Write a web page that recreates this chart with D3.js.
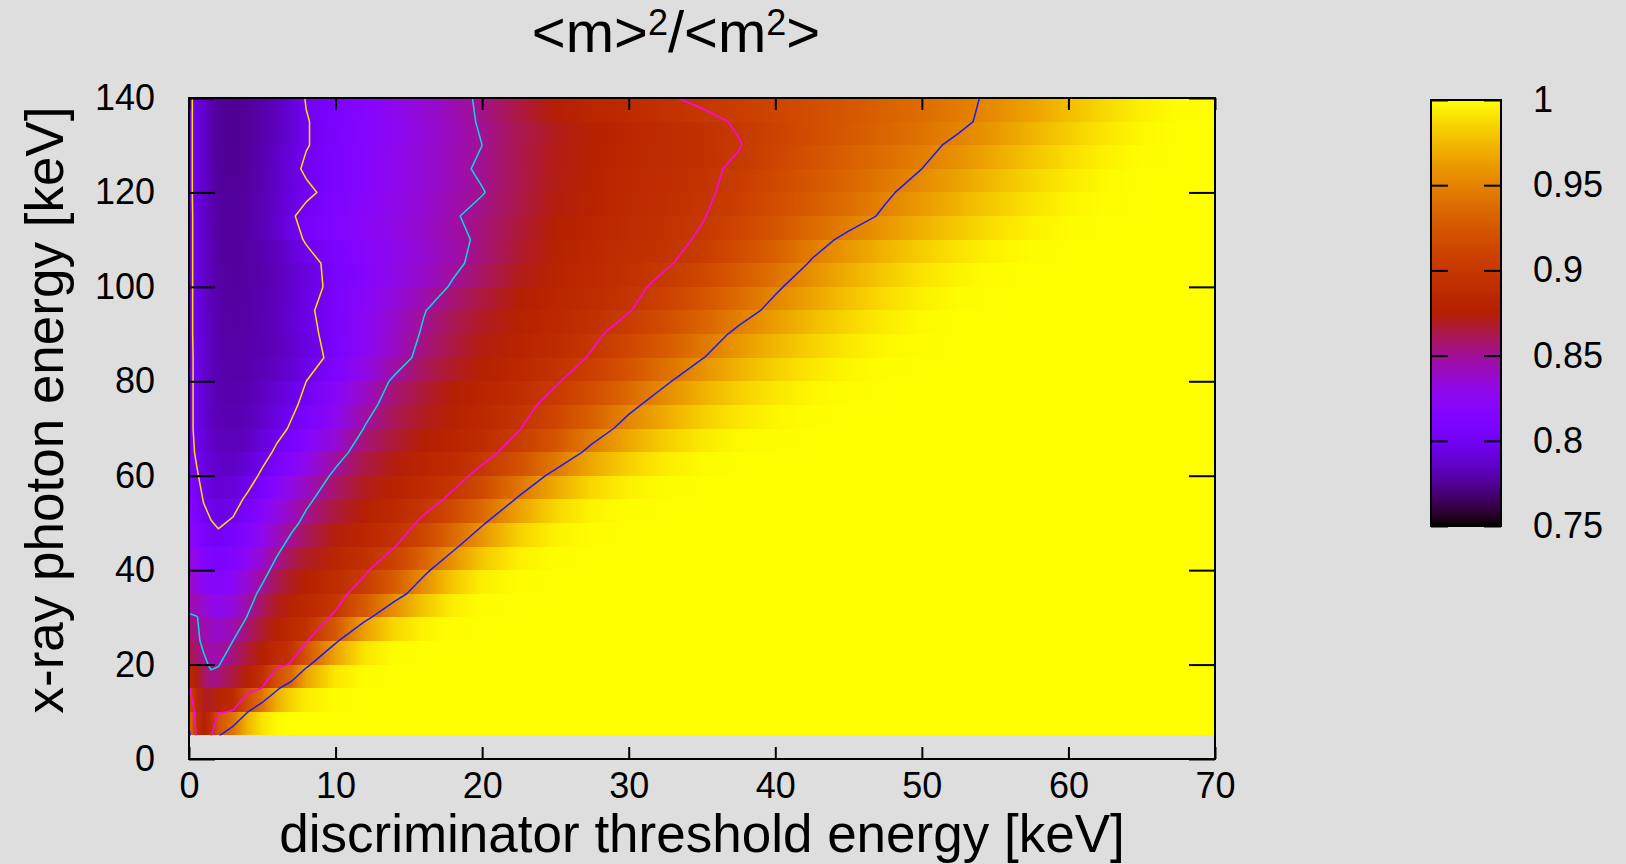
<!DOCTYPE html>
<html>
<head>
<meta charset="utf-8">
<script src="https://cdn.jsdelivr.net/npm/d3@7"></script>
<style>
  html, body { margin: 0; padding: 0; background: #dedede; }
  svg { display: block; }
  text { font-family: "Liberation Sans", Arial, sans-serif; fill: #000; }
</style>
</head>
<body>
<div id="chart"></div>
<script>

// threshold energy columns [keV] and photon energy rows [keV]
var xKeV = [0, 0.5, 1, 1.5, 2, 3, 4, 5, 6, 7, 8, 10, 12, 14, 16, 18, 20, 22.5, 25, 27.5,
            30, 32.5, 35, 37.5, 40, 42.5, 45, 47.5, 50, 52.5, 55, 57.5, 60, 62.5, 65, 67.5, 70];
var yKeV = [5, 10, 15, 20, 25, 30, 35, 40, 45, 50, 55, 60, 65, 70, 75, 80, 85, 90, 95, 100,
            105, 110, 115, 120, 125, 130, 135, 140];

// <m>^2/<m^2>, one row per photon energy (bottom row first), one value per column
var ratio = [
  [0.960,0.897,0.875,0.898,0.946,0.980,0.996,1,1,1,1,1,1,1,1,1,1,1,1,1,1,1,1,1,1,1,1,1,1,1,1,1,1,1,1,1,1],
  [0.930,0.890,0.876,0.882,0.897,0.902,0.949,0.982,0.996,1,1,1,1,1,1,1,1,1,1,1,1,1,1,1,1,1,1,1,1,1,1,1,1,1,1,1,1],
  [0.902,0.885,0.866,0.857,0.860,0.870,0.886,0.901,0.945,0.970,0.988,0.999,1,1,1,1,1,1,1,1,1,1,1,1,1,1,1,1,1,1,1,1,1,1,1,1,1],
  [0.870,0.862,0.853,0.848,0.849,0.860,0.871,0.881,0.893,0.902,0.944,0.985,0.998,1,1,1,1,1,1,1,1,1,1,1,1,1,1,1,1,1,1,1,1,1,1,1,1],
  [0.858,0.853,0.847,0.843,0.842,0.850,0.862,0.872,0.881,0.889,0.898,0.946,0.985,0.998,1,1,1,1,1,1,1,1,1,1,1,1,1,1,1,1,1,1,1,1,1,1,1],
  [0.852,0.851,0.845,0.838,0.834,0.838,0.851,0.864,0.874,0.882,0.889,0.903,0.943,0.974,0.993,0.999,1,1,1,1,1,1,1,1,1,1,1,1,1,1,1,1,1,1,1,1,1],
  [0.840,0.834,0.828,0.823,0.821,0.828,0.842,0.855,0.866,0.874,0.881,0.893,0.910,0.938,0.966,0.990,0.999,1,1,1,1,1,1,1,1,1,1,1,1,1,1,1,1,1,1,1,1],
  [0.840,0.830,0.821,0.815,0.812,0.818,0.830,0.843,0.857,0.866,0.873,0.886,0.897,0.918,0.944,0.970,0.990,0.999,1,1,1,1,1,1,1,1,1,1,1,1,1,1,1,1,1,1,1],
  [0.830,0.821,0.813,0.808,0.806,0.810,0.820,0.832,0.845,0.857,0.865,0.878,0.889,0.899,0.920,0.945,0.970,0.992,0.999,1,1,1,1,1,1,1,1,1,1,1,1,1,1,1,1,1,1],
  [0.820,0.812,0.805,0.801,0.798,0.802,0.812,0.824,0.835,0.845,0.855,0.869,0.879,0.889,0.904,0.925,0.947,0.976,0.993,0.999,1,1,1,1,1,1,1,1,1,1,1,1,1,1,1,1,1],
  [0.815,0.808,0.799,0.793,0.790,0.794,0.803,0.814,0.826,0.837,0.846,0.862,0.873,0.882,0.892,0.904,0.925,0.953,0.979,0.994,0.999,1,1,1,1,1,1,1,1,1,1,1,1,1,1,1,1],
  [0.810,0.802,0.795,0.790,0.788,0.787,0.793,0.803,0.814,0.825,0.835,0.854,0.868,0.877,0.885,0.893,0.906,0.931,0.957,0.979,0.992,0.998,1,1,1,1,1,1,1,1,1,1,1,1,1,1,1],
  [0.806,0.798,0.791,0.787,0.784,0.783,0.786,0.794,0.803,0.812,0.821,0.842,0.860,0.869,0.877,0.884,0.893,0.909,0.931,0.957,0.976,0.990,0.997,1,1,1,1,1,1,1,1,1,1,1,1,1,1],
  [0.805,0.796,0.790,0.785,0.782,0.781,0.783,0.788,0.795,0.802,0.810,0.829,0.851,0.864,0.872,0.879,0.886,0.899,0.916,0.937,0.959,0.976,0.989,0.996,0.999,1,1,1,1,1,1,1,1,1,1,1,1],
  [0.805,0.796,0.789,0.784,0.781,0.780,0.781,0.785,0.791,0.797,0.804,0.823,0.843,0.859,0.869,0.877,0.884,0.893,0.907,0.924,0.944,0.962,0.977,0.988,0.995,0.999,1,1,1,1,1,1,1,1,1,1,1],
  [0.805,0.796,0.789,0.784,0.780,0.779,0.780,0.783,0.788,0.793,0.800,0.817,0.836,0.853,0.864,0.872,0.879,0.887,0.898,0.912,0.928,0.947,0.965,0.979,0.989,0.996,0.999,1,1,1,1,1,1,1,1,1,1],
  [0.805,0.796,0.789,0.783,0.780,0.778,0.779,0.780,0.782,0.786,0.791,0.806,0.824,0.841,0.856,0.866,0.874,0.882,0.890,0.902,0.916,0.932,0.949,0.965,0.978,0.988,0.995,0.999,1,1,1,1,1,1,1,1,1],
  [0.805,0.795,0.788,0.783,0.779,0.778,0.779,0.781,0.784,0.788,0.794,0.808,0.823,0.838,0.852,0.863,0.871,0.879,0.886,0.896,0.909,0.923,0.938,0.955,0.969,0.981,0.990,0.996,0.999,1,1,1,1,1,1,1,1],
  [0.805,0.795,0.788,0.782,0.779,0.777,0.778,0.780,0.784,0.789,0.796,0.810,0.824,0.837,0.849,0.860,0.868,0.876,0.883,0.890,0.899,0.912,0.926,0.941,0.956,0.970,0.982,0.991,0.997,1,1,1,1,1,1,1,1],
  [0.805,0.795,0.787,0.782,0.778,0.777,0.778,0.780,0.783,0.787,0.792,0.806,0.819,0.830,0.840,0.852,0.862,0.873,0.881,0.888,0.895,0.905,0.919,0.933,0.947,0.961,0.974,0.985,0.993,0.998,1,1,1,1,1,1,1],
  [0.805,0.795,0.787,0.782,0.778,0.776,0.777,0.779,0.782,0.787,0.793,0.807,0.818,0.828,0.837,0.846,0.856,0.869,0.879,0.886,0.892,0.898,0.907,0.920,0.934,0.952,0.966,0.978,0.988,0.995,0.999,1,1,1,1,1,1],
  [0.805,0.795,0.787,0.781,0.777,0.776,0.778,0.781,0.786,0.793,0.802,0.811,0.820,0.828,0.836,0.844,0.854,0.866,0.876,0.884,0.890,0.895,0.902,0.914,0.927,0.942,0.955,0.967,0.978,0.987,0.994,0.998,1,1,1,1,1],
  [0.805,0.795,0.787,0.781,0.777,0.776,0.778,0.783,0.789,0.798,0.806,0.815,0.824,0.832,0.840,0.848,0.856,0.866,0.875,0.882,0.888,0.893,0.899,0.908,0.919,0.930,0.941,0.953,0.965,0.975,0.985,0.993,0.998,1,1,1,1],
  [0.805,0.794,0.786,0.781,0.777,0.775,0.777,0.780,0.784,0.789,0.796,0.807,0.816,0.825,0.833,0.841,0.849,0.861,0.871,0.879,0.886,0.891,0.897,0.905,0.916,0.926,0.937,0.947,0.958,0.969,0.979,0.988,0.995,0.999,1,1,1],
  [0.805,0.794,0.786,0.780,0.776,0.775,0.777,0.781,0.787,0.795,0.803,0.811,0.820,0.829,0.837,0.845,0.853,0.864,0.873,0.880,0.886,0.891,0.896,0.903,0.913,0.923,0.932,0.941,0.950,0.961,0.972,0.982,0.991,0.997,1,1,1],
  [0.805,0.794,0.786,0.780,0.776,0.774,0.776,0.779,0.784,0.790,0.799,0.808,0.816,0.825,0.833,0.841,0.850,0.861,0.870,0.877,0.883,0.888,0.893,0.899,0.910,0.920,0.929,0.937,0.945,0.954,0.965,0.976,0.986,0.994,0.999,1,1],
  [0.805,0.794,0.786,0.780,0.776,0.774,0.776,0.779,0.783,0.789,0.799,0.808,0.817,0.826,0.835,0.843,0.852,0.863,0.872,0.879,0.885,0.890,0.895,0.902,0.909,0.916,0.923,0.930,0.937,0.946,0.956,0.968,0.979,0.989,0.996,1,1],
  [0.805,0.794,0.786,0.780,0.776,0.774,0.776,0.779,0.784,0.791,0.801,0.809,0.818,0.827,0.836,0.844,0.853,0.866,0.877,0.885,0.892,0.898,0.904,0.910,0.915,0.921,0.927,0.933,0.940,0.946,0.953,0.963,0.974,0.985,0.994,0.999,1]
];

var contourLevels = [0.8, 0.85, 0.9, 0.95];
var contourColors = ["#ffe000", "#00dcea", "#ff00ff", "#1a1aff"];
var xTicks = [0, 10, 20, 30, 40, 50, 60, 70];
var yTicks = [0, 20, 40, 60, 80, 100, 120, 140];
var cbTicks = [0.75, 0.8, 0.85, 0.9, 0.95, 1];

var W = 1626, H = 864;
var svg = d3.select("#chart").append("svg")
    .attr("width", W)
    .attr("height", H);

svg.append("rect").attr("width", W).attr("height", H).attr("fill", "#dedede");

var x = d3.scaleLinear().domain([0, 70]).range([189, 1215]);
var y = d3.scaleLinear().domain([0, 140]).range([759, 98]);

// gnuplot default palette (rgbformulae 7,5,15) over cbrange 0.75..1
var tOf = d3.scaleLinear().domain([0.75, 1]).range([0, 1]).clamp(true);
function palette(v) {
    var t = tOf(v);
    return d3.rgb(255 * Math.sqrt(t), 255 * t * t * t,
        255 * Math.max(0, Math.sin(2 * Math.PI * t))).formatHex();
}

var defs = svg.append("defs");

// one band between two neighbouring rows, coloured by the mean of its corners
var bands = d3.range(yKeV.length - 1);
bands.forEach(function (k) {
    var g = defs.append("linearGradient")
        .attr("id", "band" + k)
        .attr("x1", 0).attr("x2", 1).attr("y1", 0).attr("y2", 0);
    g.selectAll("stop")
        .data(xKeV)
        .enter()
        .append("stop")
        .attr("offset", function (d) { return (x(d) - x(0)) / (x(70) - x(0)); })
        .attr("stop-color", function (d, i) { return palette((ratio[k][i] + ratio[k + 1][i]) / 2); });
});

svg.selectAll(".band")
    .data(bands)
    .enter()
    .append("rect")
    .attr("class", "band")
    .attr("x", x(0))
    .attr("width", x(70) - x(0))
    .attr("y", function (k) { return y(yKeV[k + 1]); })
    .attr("height", function (k) { return y(yKeV[k]) - y(yKeV[k + 1]); })
    .attr("fill", function (k) { return "url(#band" + k + ")"; })
    .attr("shape-rendering", "crispEdges");

// contour lines
defs.append("clipPath").attr("id", "dataClip")
    .append("rect")
    .attr("x", x(0)).attr("y", y(140))
    .attr("width", x(70) - x(0)).attr("height", y(5) - y(140));

var nx = xKeV.length, ny = yKeV.length;
var flat = [];
ratio.forEach(function (row) { row.forEach(function (v) { flat.push(v); }); });

var colAt = d3.scaleLinear().domain(xKeV.map(function (d, i) { return i + 0.5; })).range(xKeV);
var rowAt = d3.scaleLinear().domain(yKeV.map(function (d, i) { return i + 0.5; })).range(yKeV);
var gridToPx = d3.geoTransform({
    point: function (cx, cy) { this.stream.point(x(colAt(cx)), y(rowAt(cy))); }
});

var contours = d3.contours().size([nx, ny]).thresholds(contourLevels)(flat);

svg.append("g")
    .attr("clip-path", "url(#dataClip)")
    .selectAll("path")
    .data(contours)
    .enter()
    .append("path")
    .attr("d", d3.geoPath(gridToPx))
    .attr("fill", "none")
    .attr("stroke", function (d, i) { return contourColors[i]; })
    .attr("stroke-width", 1.5)
    .attr("stroke-linejoin", "round");

// axes: gnuplot style inward ticks on all four sides
function styleAxis(g) {
    g.select(".domain").remove();
    g.selectAll(".tick line").attr("stroke", "#000").attr("stroke-width", 2);
    g.selectAll(".tick text").attr("font-size", 36).attr("fill", "#000");
}

svg.append("g")
    .attr("transform", "translate(0," + y(0) + ")")
    .call(d3.axisBottom(x).tickValues(xTicks).tickSize(-12).tickPadding(13).tickFormat(d3.format("d")))
    .call(styleAxis);

svg.append("g")
    .attr("transform", "translate(0," + y(140) + ")")
    .call(d3.axisTop(x).tickValues(xTicks).tickSize(-12).tickFormat(""))
    .call(styleAxis);

svg.append("g")
    .attr("transform", "translate(" + x(0) + ",0)")
    .call(d3.axisLeft(y).tickValues(yTicks).tickSize(-26).tickPadding(34).tickFormat(d3.format("d")))
    .call(styleAxis);

svg.append("g")
    .attr("transform", "translate(" + x(70) + ",0)")
    .call(d3.axisRight(y).tickValues(yTicks).tickSize(-26).tickFormat(""))
    .call(styleAxis);

svg.append("rect")
    .attr("x", x(0)).attr("y", y(140))
    .attr("width", x(70) - x(0)).attr("height", y(0) - y(140))
    .attr("fill", "none")
    .attr("stroke", "#000")
    .attr("stroke-width", 2);

// title and axis labels
var title = svg.append("text")
    .attr("x", 676)
    .attr("y", 52)
    .attr("text-anchor", "middle")
    .attr("font-size", 58);
title.append("tspan").text("<m>");
title.append("tspan").attr("dy", -17).attr("font-size", 36).text("2");
title.append("tspan").attr("dy", 17).text("/<m");
title.append("tspan").attr("dy", -17).attr("font-size", 36).text("2");
title.append("tspan").attr("dy", 17).text(">");

svg.append("text")
    .attr("x", (x(0) + x(70)) / 2)
    .attr("y", 852)
    .attr("text-anchor", "middle")
    .attr("font-size", 53)
    .text("discriminator threshold energy [keV]");

svg.append("text")
    .attr("transform", "translate(63,410) rotate(-90)")
    .attr("text-anchor", "middle")
    .attr("font-size", 53)
    .text("x-ray photon energy [keV]");

// colour box
var cbX0 = 1431, cbX1 = 1501;
var cb = d3.scaleLinear().domain([0.75, 1]).range([526, 100]);

var cbGrad = defs.append("linearGradient")
    .attr("id", "cbGrad")
    .attr("x1", 0).attr("x2", 0).attr("y1", 1).attr("y2", 0);
cbGrad.selectAll("stop")
    .data(d3.range(0, 51))
    .enter()
    .append("stop")
    .attr("offset", function (d) { return d / 50; })
    .attr("stop-color", function (d) { return palette(0.75 + 0.25 * d / 50); });

svg.append("rect")
    .attr("x", cbX0).attr("y", cb(1))
    .attr("width", cbX1 - cbX0).attr("height", cb(0.75) - cb(1))
    .attr("fill", "url(#cbGrad)");

svg.append("g")
    .attr("transform", "translate(" + cbX1 + ",0)")
    .call(d3.axisRight(cb).tickValues(cbTicks).tickSize(-17).tickPadding(32).tickFormat(d3.format("~g")))
    .call(styleAxis);

svg.append("g")
    .attr("transform", "translate(" + cbX0 + ",0)")
    .call(d3.axisLeft(cb).tickValues(cbTicks).tickSize(-17).tickFormat(""))
    .call(styleAxis);

svg.append("rect")
    .attr("x", cbX0).attr("y", cb(1))
    .attr("width", cbX1 - cbX0).attr("height", cb(0.75) - cb(1))
    .attr("fill", "none")
    .attr("stroke", "#000")
    .attr("stroke-width", 2);

</script>
</body>
</html>
